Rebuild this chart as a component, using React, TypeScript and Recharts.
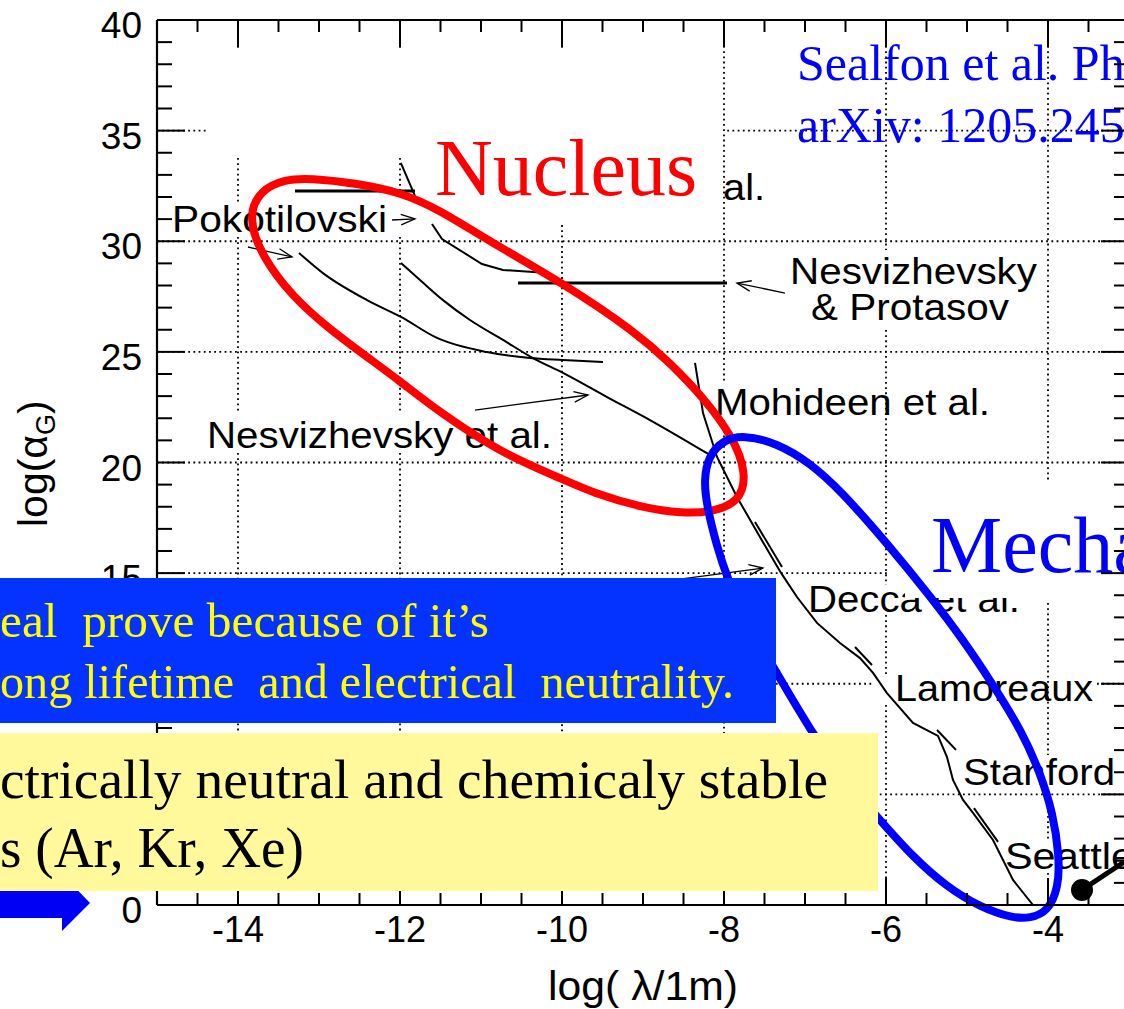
import React from 'react';
import { ComposedChart, XAxis, YAxis, Line, Scatter, ReferenceLine } from 'recharts';

// axis ticks
const xTicks = [-14.5, -14, -13.5, -13, -12.5, -12, -11.5, -11, -10.5, -10, -9.5, -9, -8.5, -8, -7.5, -7, -6.5, -6, -5.5, -5, -4.5, -4, -3.5];
const xLabelTicks = [-14, -12, -10, -8, -6, -4];
const yTicks = [0, 1, 2, 3, 4, 5, 6, 7, 8, 9, 10, 11, 12, 13, 14, 15, 16, 17, 18, 19, 20, 21, 22, 23, 24, 25, 26, 27, 28, 29, 30, 31, 32, 33, 34, 35, 36, 37, 38, 39, 40];
const yMajorTicks = [0, 5, 10, 15, 20, 25, 30, 35, 40];
// 5 and 10 sit behind the slide's text boxes, so their labels are not visible
const yLabelTicks = [0, 15, 20, 25, 30, 35, 40];

// experimental limit curves, log(lambda/1m) vs log(alpha_G)
const liuTop = [{ x: -13.296, y: 32.27 }, { x: -11.815, y: 32.27 }];
const protasovLimit = [{ x: -10.543, y: 28.11 }, { x: -7.963, y: 28.11 }];
const pokotilovskiA = [{ x: -11.99, y: 33.54 }, { x: -11.815, y: 32.05 }];
const pokotilovskiB = [
  { x: -11.605, y: 30.78 }, { x: -11.481, y: 30.1 }, { x: -10.988, y: 28.97 },
  { x: -10.728, y: 28.7 }, { x: -10.173, y: 28.56 },
];
const nesvizhevskyA = [
  { x: -13.247, y: 29.47 }, { x: -12.951, y: 28.56 }, { x: -12.407, y: 27.34 },
  { x: -11.988, y: 26.58 }, { x: -11.543, y: 25.63 }, { x: -10.926, y: 24.99 },
  { x: -10.395, y: 24.72 }, { x: -9.988, y: 24.63 }, { x: -9.494, y: 24.54 },
];
const nesvizhevskyB = [
  { x: -11.988, y: 29.02 }, { x: -11.753, y: 28.25 }, { x: -11.469, y: 27.34 },
  { x: -11.136, y: 26.44 }, { x: -10.728, y: 25.54 }, { x: -10.358, y: 24.72 },
  { x: -9.988, y: 24.05 }, { x: -9.444, y: 22.96 }, { x: -8.914, y: 21.92 },
  { x: -8.173, y: 20.34 },
];
const casimirChain = [
  { x: -8.358, y: 24.5 }, { x: -8.259, y: 22.24 }, { x: -8.086, y: 20.25 },
  { x: -7.84, y: 18.44 }, { x: -7.556, y: 16.63 }, { x: -7.296, y: 15.01 },
  { x: -7.099, y: 13.92 }, { x: -6.852, y: 12.75 }, { x: -6.568, y: 11.84 },
  { x: -6.321, y: 11.16 }, { x: -6.16, y: 10.49 }, { x: -5.988, y: 9.58 },
  { x: -5.667, y: 8.23 }, { x: -5.358, y: 7.64 }, { x: -5.247, y: 6.69 },
  { x: -5.173, y: 5.65 }, { x: -5.049, y: 4.75 }, { x: -4.926, y: 4.16 },
  { x: -4.679, y: 2.94 }, { x: -4.432, y: 1.13 }, { x: -4.185, y: 0 },
];
const deccaEnd = [{ x: -7.617, y: 17.31 }, { x: -7.284, y: 15.28 }];
const lamoreauxEnd = [{ x: -6.383, y: 11.66 }, { x: -6.173, y: 10.85 }];
const stanfordEnd = [{ x: -5.37, y: 7.91 }, { x: -5.136, y: 7.01 }];
const seattleEnd = [{ x: -4.914, y: 4.38 }, { x: -4.617, y: 2.85 }];
const seattlePointer = [{ x: -3.58, y: 0.68 }, { x: -3.062, y: 1.94 }];

// region outlines (closed loops)
const nucleusLoop = [
  { x: -10.926, y: 30.06 }, { x: -9.988, y: 28.11 }, { x: -9.074, y: 25.85 }, { x: -8.667, y: 24.5 },
  { x: -8.259, y: 22.96 }, { x: -7.889, y: 21.15 }, { x: -7.72, y: 19.53 }, { x: -7.8, y: 18.2 },
  { x: -8.173, y: 17.75 }, { x: -8.506, y: 17.7 }, { x: -9.0, y: 17.95 }, { x: -9.617, y: 18.62 },
  { x: -10.025, y: 19.3 }, { x: -10.765, y: 20.45 }, { x: -11.543, y: 22.35 }, { x: -12.0, y: 23.68 },
  { x: -12.407, y: 24.77 }, { x: -12.901, y: 26.12 }, { x: -13.321, y: 27.48 }, { x: -13.704, y: 29.29 },
  { x: -13.88, y: 31.1 }, { x: -13.73, y: 32.3 }, { x: -13.42, y: 32.8 }, { x: -13.111, y: 32.85 },
  { x: -12.556, y: 32.63 }, { x: -12.0, y: 32.23 }, { x: -11.506, y: 31.41 },
];
const mechanicalLoop = [
  { x: -5.42, y: 13.79 }, { x: -5.049, y: 11.98 }, { x: -4.716, y: 10.17 }, { x: -4.309, y: 7.77 },
  { x: -4.099, y: 5.97 }, { x: -3.938, y: 4.16 }, { x: -3.86, y: 2.17 }, { x: -3.87, y: 0.81 },
  { x: -4.0, y: -0.3 }, { x: -4.222, y: -0.6 }, { x: -4.432, y: -0.6 }, { x: -4.84, y: -0.09 },
  { x: -5.247, y: 0.81 }, { x: -5.667, y: 2.17 }, { x: -6.074, y: 3.84 }, { x: -6.506, y: 5.65 },
  { x: -6.938, y: 7.91 }, { x: -7.346, y: 10.49 }, { x: -7.741, y: 12.88 }, { x: -7.963, y: 14.82 },
  { x: -8.086, y: 16.18 }, { x: -8.21, y: 17.99 }, { x: -8.25, y: 19.21 }, { x: -8.19, y: 20.3 },
  { x: -8.012, y: 21.0 }, { x: -7.765, y: 21.25 }, { x: -7.346, y: 20.88 }, { x: -6.938, y: 19.98 },
  { x: -6.568, y: 18.76 }, { x: -5.988, y: 16.36 },
];

// text annotations (anchored at left end of baseline)
const annotations = [
  { x: -14.815, y: 30.42, text: 'Pokotilovski', kind: 'exp' },
  { x: -8.012, y: 31.86, text: 'al.', kind: 'exp' },
  { x: -7.185, y: 28.06, text: 'Nesvizhevsky', kind: 'exp' },
  { x: -6.926, y: 26.45, text: '& Protasov', kind: 'exp' },
  { x: -8.111, y: 22.15, text: 'Mohideen et al.', kind: 'exp' },
  { x: -14.383, y: 20.66, text: 'Nesvizhevsky et al.', kind: 'exp' },
  { x: -6.963, y: 13.24, text: 'Decca et al.', kind: 'cut' },
  { x: -5.889, y: 9.22, text: 'Lamoreaux', kind: 'exp' },
  { x: -5.049, y: 5.42, text: 'Stanford', kind: 'exp' },
  { x: -4.531, y: 1.63, text: 'Seattle', kind: 'exp' },
  { x: -11.568, y: 32.09, text: 'Nucleus', kind: 'nucleus' },
  { x: -5.444, y: 15.05, text: 'Mecha', kind: 'mech' },
  { x: -7.099, y: 37.29, text: 'Sealfon et al. Ph', kind: 'ref' },
  { x: -7.099, y: 34.49, text: 'arXiv: 1205.245', kind: 'ref' },
];
const annotationWidths: Record<string, number> = {
  Pokotilovski: 215, 'al.': 42, Nesvizhevsky: 247, '& Protasov': 198, 'Mohideen et al.': 275,
  'Nesvizhevsky et al.': 345, 'Decca et al.': 212, Lamoreaux: 198, Stanford: 152, Seattle: 129,
};

// pointer arrows [from, to]
const pointers = [
  [{ x: -12.099, y: 30.96 }, { x: -11.815, y: 31.01 }],
  [{ x: -13.877, y: 29.74 }, { x: -13.333, y: 29.29 }],
  [{ x: -7.247, y: 27.66 }, { x: -7.84, y: 28.11 }],
  [{ x: -11.074, y: 22.37 }, { x: -9.679, y: 23.05 }],
  [{ x: -8.543, y: 14.73 }, { x: -7.519, y: 15.23 }],
];

// visible pieces of the dotted grid (the rest is hidden behind text boxes)
const gridX = [
  { x: -14, spans: [[40, 38.64], [33.76, 31.77], [30.19, 22.28], [20.43, 0]] },
  { x: -12, spans: [[40, 38.64], [33.76, 32.32], [30.19, 22.28], [20.43, 0]] },
  { x: -10, spans: [[40, 38.64], [30.73, 0]] },
  { x: -8, spans: [[40, 23.59], [21.92, 0]] },
  { x: -6, spans: [[40, 29.6], [25.99, 14.46], [13.11, 10.4], [9.04, 0]] },
  { x: -4, spans: [[40, 19.12], [13.65, 6.78], [5.2, 2.94], [1.45, 0]] },
];
const gridY = [
  { y: 35, spans: [[-15, -14.37], [-7.96, -3]] },
  { y: 30, spans: [[-15, -3]] },
  { y: 25, spans: [[-15, -3]] },
  { y: 20, spans: [[-15, -3]] },
  { y: 15, spans: [[-15, -5.96]] },
  { y: 10, spans: [[-15, -6.16], [-3.395, -3]] },
  { y: 5, spans: [[-15, -3]] },
];

const SANS = "'Liberation Sans', Arial, Helvetica, sans-serif";
const SERIF = "'Liberation Serif', 'Times New Roman', Times, serif";
const axisStroke = { stroke: '#000', strokeWidth: 2.2 };

const annotationStyles: Record<string, { size: number; font: string; color: string }> = {
  exp: { size: 37, font: SANS, color: '#000' },
  cut: { size: 37, font: SANS, color: '#000' },
  nucleus: { size: 80, font: SERIF, color: '#ff0000' },
  mech: { size: 80, font: SERIF, color: '#0000ff' },
  ref: { size: 50, font: SERIF, color: '#0000ff' },
};

const BottomTick = (props: any) => {
  const { x, y, payload } = props;
  const major = xLabelTicks.includes(payload.value);
  return (
    <g>
      <line x1={x} y1={y} x2={x} y2={y - (major ? 27 : 12)} stroke="#000" strokeWidth={2} />
      {major && (
        <text x={x} y={y + 37} textAnchor="middle" fontSize={36} fontFamily={SANS} fill="#000">
          {payload.value}
        </text>
      )}
    </g>
  );
};

const TopTick = (props: any) => {
  const { x, y, payload } = props;
  const major = xLabelTicks.includes(payload.value);
  return <line x1={x} y1={y} x2={x} y2={y + (major ? 27 : 12)} stroke="#000" strokeWidth={2} />;
};

const LeftTick = (props: any) => {
  const { x, y, payload } = props;
  const major = yMajorTicks.includes(payload.value);
  const labelled = yLabelTicks.includes(payload.value);
  return (
    <g>
      <line x1={x} y1={y} x2={x + (major ? 28 : 15)} y2={y} stroke="#000" strokeWidth={2} />
      {labelled && (
        <text x={x - 15} y={y + 18} textAnchor="end" fontSize={37} fontFamily={SANS} fill="#000">
          {payload.value}
        </text>
      )}
    </g>
  );
};

const RightTick = (props: any) => {
  const { x, y, payload } = props;
  const major = yMajorTicks.includes(payload.value);
  return <line x1={x} y1={y} x2={x - (major ? 28 : 15)} y2={y} stroke="#000" strokeWidth={2} />;
};

const ArrowShape = (p: any) => {
  const { x1, y1, x2, y2 } = p;
  const a = Math.atan2(y2 - y1, x2 - x1);
  const L = 15;
  const s = 0.36;
  const h1 = `${x2 - L * Math.cos(a - s)},${y2 - L * Math.sin(a - s)}`;
  const h2 = `${x2 - L * Math.cos(a + s)},${y2 - L * Math.sin(a + s)}`;
  return (
    <g>
      <line x1={x1} y1={y1} x2={x2} y2={y2} stroke="#000" strokeWidth={1.3} />
      <polyline points={`${h1} ${x2},${y2} ${h2}`} fill="none" stroke="#000" strokeWidth={1.3} />
    </g>
  );
};

const renderAnnotation = (p: any) => {
  const a = p.payload ?? p;
  const st = annotationStyles[a.kind];
  const w = annotationWidths[a.text];
  const common: any = {
    x: p.cx,
    y: p.cy,
    fontSize: st.size,
    fontFamily: st.font,
    fill: st.color,
  };
  if (w) {
    common.textLength = w;
    common.lengthAdjust = 'spacingAndGlyphs';
  }
  if (a.kind === 'cut') {
    // top of the trailing words is hidden behind the "Mechanical" box
    return (
      <g>
        <defs>
          <clipPath id="decca-cut">
            <rect x={p.cx - 6} y={p.cy - 50} width={103} height={70} />
            <rect x={p.cx + 97} y={p.cy - 14} width={200} height={34} />
          </clipPath>
        </defs>
        <text {...common} clipPath="url(#decca-cut)">{a.text}</text>
      </g>
    );
  }
  return <text {...common}>{a.text}</text>;
};

const PointerDot = (p: any) => {
  if (p.index !== 0) return <g key={p.key} />;
  return <circle key={p.key} cx={p.cx} cy={p.cy} r={11} fill="#000" />;
};

const thinCurves = [
  { id: 'liuTop', data: liuTop, w: 3, type: 'linear' },
  { id: 'protasovLimit', data: protasovLimit, w: 3, type: 'linear' },
  { id: 'pokotilovskiA', data: pokotilovskiA, w: 2, type: 'linear' },
  { id: 'pokotilovskiB', data: pokotilovskiB, w: 2, type: 'linear' },
  { id: 'nesvizhevskyA', data: nesvizhevskyA, w: 2, type: 'monotone' },
  { id: 'nesvizhevskyB', data: nesvizhevskyB, w: 2, type: 'monotone' },
  { id: 'casimirChain', data: casimirChain, w: 2, type: 'linear' },
  { id: 'deccaEnd', data: deccaEnd, w: 2, type: 'linear' },
  { id: 'lamoreauxEnd', data: lamoreauxEnd, w: 2, type: 'linear' },
  { id: 'stanfordEnd', data: stanfordEnd, w: 2, type: 'linear' },
  { id: 'seattleEnd', data: seattleEnd, w: 2, type: 'linear' },
];

function Overlay() {
  return (
    <svg width={1124} height={1009} style={{ position: 'absolute', left: 0, top: 0, pointerEvents: 'none' }}>
      <text transform="translate(47,527) rotate(-90)" fontSize={41} fontFamily={SANS} fill="#000">
        log(α<tspan fontSize={27} dy={8}>G</tspan><tspan dy={-8}>)</tspan>
      </text>
      <text x={548} y={1000} fontSize={41} fontFamily={SANS} fill="#000" textLength={190} lengthAdjust="spacingAndGlyphs">
        log( λ/1m)
      </text>

      <polygon points="0,886 62,886 62,874 90,903 62,931 62,918 0,918" fill="#0000f5" />

      <rect x={0} y={733} width={878} height={158} fill="#fff99b" />
      <text x={0} y={798} fontSize={55} fontFamily={SERIF} fill="#000" textLength={828} lengthAdjust="spacingAndGlyphs">
        ctrically neutral and chemicaly stable
      </text>
      <text x={0} y={867} fontSize={56} fontFamily={SERIF} fill="#000" textLength={304} lengthAdjust="spacingAndGlyphs">
        s (Ar, Kr, Xe)
      </text>

      <rect x={0} y={578} width={776} height={145} fill="#0433ff" />
      <text x={0} y={637} fontSize={49} fontFamily={SERIF} fill="#ffff00" textLength={489} lengthAdjust="spacingAndGlyphs" style={{ whiteSpace: 'pre' }}>
        {'eal  prove because of it\u2019s'}
      </text>
      <text x={0} y={698} fontSize={49} fontFamily={SERIF} fill="#ffff00" textLength={734} lengthAdjust="spacingAndGlyphs" style={{ whiteSpace: 'pre' }}>
        {'ong lifetime  and electrical  neutrality.'}
      </text>
    </svg>
  );
}

export default function App() {
  return (
    <div style={{ position: 'fixed', left: 0, top: 0, width: 1124, height: 1009, overflow: 'hidden', background: '#fff' }}>
      <style>{'.no-clip, .no-clip * { clip-path: none !important; }'}</style>
      <div style={{ position: 'absolute', left: 0, top: 0 }}>
        <ComposedChart width={1140} height={1009} margin={{ top: 19, right: 10, bottom: 0, left: 156 }}>
          {gridX.flatMap((g) =>
            g.spans.map(([a, b], i) => (
              <ReferenceLine
                key={`gx${g.x}-${i}`}
                segment={[{ x: g.x, y: a }, { x: g.x, y: b }]}
                stroke="#000"
                strokeWidth={1.8}
                strokeDasharray="1.8 3.4"
                ifOverflow="visible"
                zIndex={-100}
              />
            ))
          )}
          {gridY.flatMap((g) =>
            g.spans.map(([a, b], i) => (
              <ReferenceLine
                key={`gy${g.y}-${i}`}
                segment={[{ x: a, y: g.y }, { x: b, y: g.y }]}
                stroke="#000"
                strokeWidth={1.8}
                strokeDasharray="1.8 3.4"
                ifOverflow="visible"
                zIndex={-100}
              />
            ))
          )}

          <XAxis dataKey="x" type="number" domain={[-15, -3]} allowDataOverflow ticks={xTicks} interval={0}
            tickSize={0} tickMargin={0} tickLine={false} tick={BottomTick} axisLine={axisStroke} height={104} />
          <XAxis xAxisId="top" orientation="top" dataKey="x" type="number" domain={[-15, -3]} allowDataOverflow
            ticks={xTicks} interval={0} tickSize={0} tickMargin={0} tickLine={false} tick={TopTick} axisLine={axisStroke} height={1} />
          <YAxis dataKey="y" type="number" domain={[0, 40]} allowDataOverflow ticks={yTicks} interval={0}
            tickSize={0} tickMargin={0} tickLine={false} tick={LeftTick} axisLine={axisStroke} width={1} />
          <YAxis yAxisId="right" orientation="right" dataKey="y" type="number" domain={[0, 40]} allowDataOverflow
            ticks={yTicks} interval={0} tickSize={0} tickMargin={0} tickLine={false} tick={RightTick} axisLine={axisStroke} width={1} />

          <Scatter data={annotations} shape={renderAnnotation} isAnimationActive={false} zIndex={350} />

          {pointers.map((seg, i) => (
            <ReferenceLine key={`p${i}`} segment={seg} shape={ArrowShape} ifOverflow="visible" zIndex={360} />
          ))}

          {thinCurves.map((c) => (
            <Line key={c.id} data={c.data} dataKey="y" type={c.type as any} stroke="#000" strokeWidth={c.w}
              dot={false} activeDot={false} isAnimationActive={false} zIndex={400} />
          ))}
          <Line data={seattlePointer} dataKey="y" type="linear" stroke="#000" strokeWidth={5}
            dot={PointerDot} activeDot={false} isAnimationActive={false} zIndex={400} />

          <Line data={nucleusLoop} dataKey="y" type="basisClosed" stroke="#ff0000" strokeWidth={8}
            dot={false} activeDot={false} isAnimationActive={false} className="no-clip" zIndex={450} />
          <Line data={mechanicalLoop} dataKey="y" type="basisClosed" stroke="#0000ff" strokeWidth={8}
            dot={false} activeDot={false} isAnimationActive={false} className="no-clip" zIndex={450} />
        </ComposedChart>
      </div>
      <Overlay />
    </div>
  );
}
